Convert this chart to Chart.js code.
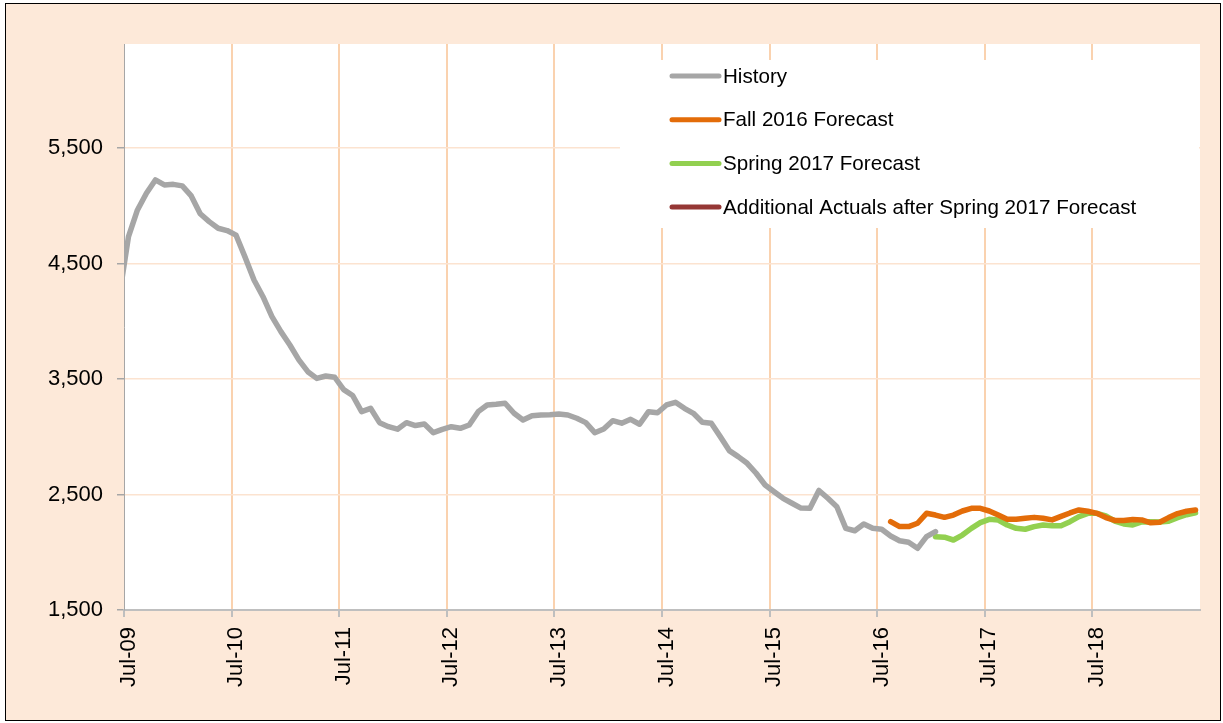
<!DOCTYPE html>
<html>
<head>
<meta charset="utf-8">
<script src="https://cdn.jsdelivr.net/npm/chart.js@4.4.1/dist/chart.umd.min.js"></script>
<style>
  html, body { margin: 0; padding: 0; background: #fff; }
</style>
</head>
<body>
<canvas id="trend" width="1223" height="723"></canvas>
<script>
// month categories Jun-09 .. Jun-19; the axis starts at Jul-09, Jun-09 only feeds the clipped start of the history line
var monthNames = ['Jan', 'Feb', 'Mar', 'Apr', 'May', 'Jun', 'Jul', 'Aug', 'Sep', 'Oct', 'Nov', 'Dec'];
var months = [];
for (var yr = 9; yr <= 19; yr++) {
    for (var m = 0; m < 12; m++) {
        if ((yr === 9 && m < 5) || (yr === 19 && m > 5)) continue;
        months.push(monthNames[m] + '-' + (yr < 10 ? '0' + yr : yr));
    }
}
var axisStart = 'Jul-09';
var yTicks = [1500, 2500, 3500, 4500, 5500];

// Jun-09 .. Jan-17
var historyActuals = [
    4230, 4732, 4963, 5108, 5223, 5180, 5185, 5172, 5085, 4930, 4862, 4805,
    4785, 4745, 4555, 4357, 4212, 4040, 3910, 3794, 3665, 3563, 3505, 3526,
    3515, 3408, 3357, 3217, 3246, 3122, 3087, 3065, 3122, 3097, 3110, 3035,
    3064, 3087, 3073, 3102, 3217, 3275, 3281, 3290, 3203, 3145, 3182, 3188,
    3190, 3197, 3188, 3160, 3122, 3035, 3067, 3139, 3117, 3151, 3108, 3217,
    3208, 3275, 3298, 3246, 3203, 3125, 3117, 3001, 2880, 2828, 2770, 2684,
    2582, 2524, 2467, 2424, 2382, 2380, 2535, 2467, 2394, 2207, 2186, 2245,
    2207, 2199, 2141, 2100, 2086, 2034, 2135, 2178
];
// Aug-16 .. Jun-19
var fall2016 = [
    2265, 2222, 2222, 2251, 2337, 2322, 2302, 2322, 2357, 2380, 2380,
    2357, 2322, 2285, 2285, 2294, 2302, 2294, 2280, 2310, 2340, 2366, 2355,
    2337, 2300, 2275, 2275, 2283, 2280, 2255, 2260, 2300, 2335, 2355, 2366
];
// Jan-17 .. Jun-19
var spring2017 = [
    2135, 2130, 2106, 2149, 2207, 2256,
    2285, 2279, 2236, 2207, 2199, 2222, 2236, 2230, 2230, 2265, 2308, 2337,
    2337, 2314, 2270, 2245, 2236, 2262, 2265, 2262, 2268, 2300, 2325, 2342
];
var additionalActuals = [];

function placeFrom(startMonth, values) {
    var out = [];
    var start = months.indexOf(startMonth);
    for (var i = 0; i < start; i++) out.push(null);
    return out.concat(values);
}

var FONT = "'Liberation Sans', Arial, sans-serif";

var frame = {
    id: 'frame',
    beforeDraw: function(chart) {
        var ctx = chart.ctx, a = chart.chartArea;
        ctx.save();
        ctx.fillStyle = '#ffffff';
        ctx.fillRect(0, 0, chart.width, chart.height);
        ctx.fillStyle = '#FDE9D9';
        ctx.fillRect(5, 3, chart.width - 7, chart.height - 5);
        ctx.strokeStyle = '#000000';
        ctx.lineWidth = 1;
        ctx.strokeRect(5.5, 3.5, chart.width - 8, chart.height - 6);
        ctx.fillStyle = '#ffffff';
        ctx.fillRect(a.left, a.top, a.right - a.left, a.bottom - a.top);
        ctx.restore();
    }
};

// legend sits inside the plot, top right, on a white box that hides the grid
var legendBox = {
    id: 'legendBox',
    beforeDatasetsDraw: function(chart) {
        var ctx = chart.ctx, a = chart.chartArea;
        var left = a.right - 580, top = a.top + 16;
        ctx.save();
        ctx.fillStyle = '#ffffff';
        ctx.fillRect(left, top, a.right - left - 1, 168);
        ctx.font = '20.6px ' + FONT;
        ctx.textBaseline = 'middle';
        ctx.lineCap = 'round';
        ctx.lineWidth = 5;
        chart.data.datasets.forEach(function(ds, k) {
            var y = top + 16 + k * 43.7;
            ctx.strokeStyle = ds.borderColor;
            ctx.beginPath();
            ctx.moveTo(left + 52, y);
            ctx.lineTo(left + 99, y);
            ctx.stroke();
            ctx.fillStyle = '#000000';
            ctx.fillText(ds.label, left + 103, y + 1);
        });
        ctx.restore();
    }
};

new Chart(document.getElementById('trend').getContext('2d'), {
    type: 'line',
    data: {
        labels: months,
        datasets: [
            { label: 'History', data: historyActuals, borderColor: '#A6A6A6' },
            { label: 'Fall 2016 Forecast', data: placeFrom('Aug-16', fall2016), borderColor: '#E36C09' },
            { label: 'Spring 2017 Forecast', data: placeFrom('Jan-17', spring2017), borderColor: '#92D050' },
            { label: 'Additional Actuals after Spring 2017 Forecast', data: additionalActuals, borderColor: '#953735' }
        ]
    },
    options: {
        responsive: false,
        animation: false,
        layout: { padding: { left: 0, top: 44, right: 23, bottom: 0 } },
        elements: {
            line: { borderWidth: 5.5, tension: 0, borderCapStyle: 'round', borderJoinStyle: 'round', fill: false },
            point: { radius: 0, hoverRadius: 0 }
        },
        datasets: { line: { clip: { left: 0, right: 3, top: 5, bottom: 5 }, spanGaps: false } },
        plugins: {
            legend: { display: false },
            tooltip: { enabled: false }
        },
        scales: {
            x: {
                type: 'category',
                min: axisStart,
                offset: true,
                afterFit: function(axis) {
                    axis.height = 113;
                    axis.paddingLeft = 0;
                    axis.paddingRight = 0;
                },
                grid: {
                    offset: true,
                    drawOnChartArea: true,
                    tickLength: 7,
                    lineWidth: 2,
                    color: function(c) { return (c.index % 12 === 0 && c.index > 0) ? '#FAD2AF' : 'rgba(0,0,0,0)'; },
                    tickColor: function(c) { return c.index % 12 === 0 ? '#BFBFBF' : 'rgba(0,0,0,0)'; }
                },
                border: { display: true, color: '#BFBFBF', width: 2 },
                ticks: {
                    autoSkip: false,
                    minRotation: 90,
                    maxRotation: 90,
                    padding: 10,
                    color: '#000000',
                    font: { family: FONT, size: 22 },
                    callback: function(value, index) {
                        return index % 12 === 0 ? this.getLabelForValue(value) : '';
                    }
                }
            },
            y: {
                min: 1500,
                max: 6400,
                afterFit: function(axis) { axis.width = 124; },
                afterBuildTicks: function(axis) {
                    axis.ticks = yTicks.map(function(v) { return { value: v }; });
                },
                grid: {
                    tickLength: 7,
                    lineWidth: 1.5,
                    color: function(c) { return c.tick && c.tick.value === 1500 ? 'rgba(0,0,0,0)' : '#FCE3D0'; },
                    tickColor: '#A6A6A6'
                },
                border: { display: true, color: '#A6A6A6', width: 1 },
                ticks: {
                    padding: 14,
                    color: '#000000',
                    font: { family: FONT, size: 22 },
                    callback: function(v) { return v.toLocaleString('en-US'); }
                }
            }
        }
    },
    plugins: [frame, legendBox]
});
</script>
</body>
</html>
